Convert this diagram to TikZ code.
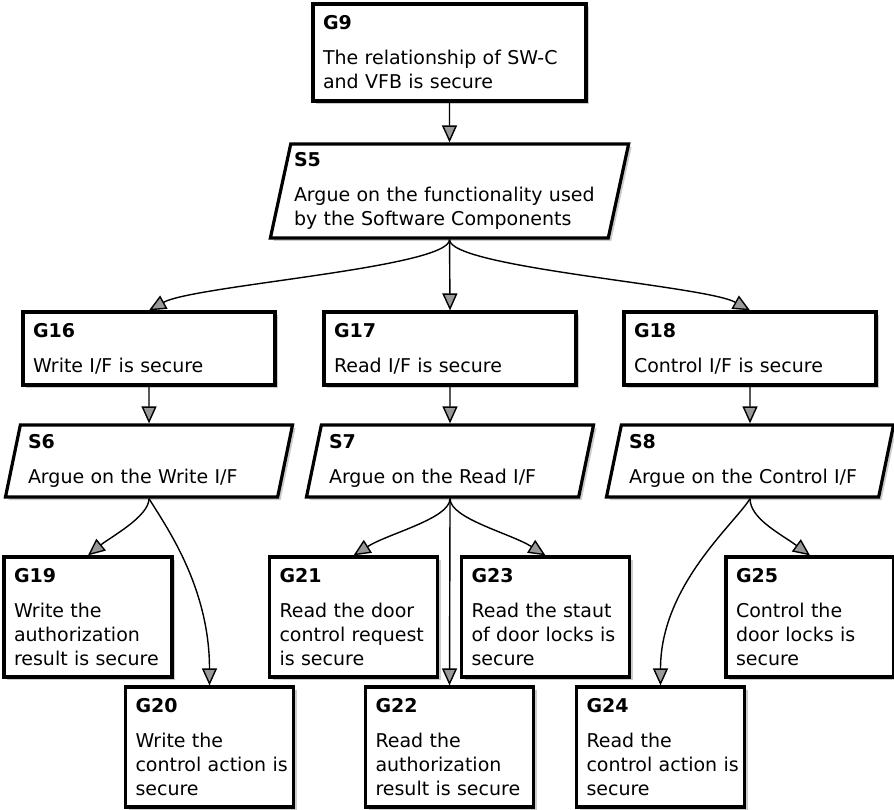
\documentclass[tikz,border=0pt]{standalone}
\usepackage{fontspec}
\setmainfont{DejaVu Sans}
\usetikzlibrary{arrows.meta,shapes.geometric,shadows}

\begin{document}
\begin{tikzpicture}[
  x=1pt, y=-1pt,
  >={Triangle[length=17pt,width=15pt,fill=gray!80]},
  font=\fontsize{19}{24}\selectfont,
  shade/.style={drop shadow={shadow xshift=3pt,shadow yshift=-3pt,fill=black!20,opacity=1}},
  goal/.style={draw, line width=3.2pt, fill=white, align=left,
               inner xsep=10pt, inner ysep=3pt, shade},
  goalwide/.style={goal, minimum width=273pt, minimum height=97pt, text width=253pt},
  goalmid/.style={goal, minimum width=252pt, minimum height=73pt, text width=232pt},
  goalsmall/.style={goal, minimum width=168pt, minimum height=120pt, text width=148pt},
  strat/.style={draw, line width=3.2pt, fill=white, align=left, inner sep=2pt,
                trapezium, trapezium left angle=76, trapezium right angle=104,
                trapezium stretches=true, minimum width=288pt, minimum height=72pt,
                text width=242pt, shade},
  stratwide/.style={strat, minimum width=359pt, minimum height=94pt, text width=311pt},
  link/.style={->, line width=1.4pt}
]
  \useasboundingbox (0,0) rectangle (894,810);

  % top goal and strategy
  \node[goalwide] (G9) at (449.5,52.5) {\textbf{G9}\\[11pt]The relationship of SW-C\\and VFB is secure};
  \node[stratwide] (S5) at (449.5,191) {\textbf{S5}\\[11pt]Argue on the functionality used\\by the Software Components};

  % interface goals
  \node[goalmid] (G16) at (149,348.5) {\textbf{G16}\\[11pt]Write I/F is secure};
  \node[goalmid] (G17) at (450,348.5) {\textbf{G17}\\[11pt]Read I/F is secure};
  \node[goalmid] (G18) at (750,348.5) {\textbf{G18}\\[11pt]Control I/F is secure};

  % interface strategies
  \node[strat] (S6) at (149,461) {\textbf{S6}\\[11pt]Argue on the Write I/F};
  \node[strat] (S7) at (450,461) {\textbf{S7}\\[11pt]Argue on the Read I/F};
  \node[strat] (S8) at (750,461) {\textbf{S8}\\[11pt]Argue on the Control I/F};

  % leaf goals
  \node[goalsmall] (G19) at (88,617) {\textbf{G19}\\[11pt]Write the\\authorization\\result is secure};
  \node[goalsmall] (G20) at (209.5,747) {\textbf{G20}\\[11pt]Write the\\\mbox{control action is}\\secure};
  \node[goalsmall] (G21) at (353.5,617) {\textbf{G21}\\[11pt]Read the door\\control request\\is secure};
  \node[goalsmall] (G22) at (449.5,747) {\textbf{G22}\\[11pt]Read the\\authorization\\result is secure};
  \node[goalsmall] (G23) at (545.5,617) {\textbf{G23}\\[11pt]Read the staut\\of door locks is\\secure};
  \node[goalsmall] (G24) at (660.5,747) {\textbf{G24}\\[11pt]Read the\\\mbox{control action is}\\secure};
  \node[goalsmall] (G25) at (810,617) {\textbf{G25}\\[11pt]Control the\\door locks is\\secure};

  \draw[link] (G9.south) -- (S5.north);
  \draw[link] (S5.south) .. controls +(0,28) and +(45,-25) .. (G16.north);
  \draw[link] (S5.south) -- (G17.north);
  \draw[link] (S5.south) .. controls +(0,28) and +(-45,-25) .. (G18.north);
  \draw[link] (G16.south) -- (S6.north);
  \draw[link] (G17.south) -- (S7.north);
  \draw[link] (G18.south) -- (S8.north);
  \draw[link] (S6.south) .. controls +(0,18) and +(22,-18) .. (G19.north);
  \draw[link] (S6.south) .. controls +(15,25) and +(0,-100) .. (G20.north);
  \draw[link] (S7.south) .. controls +(0,20) and +(35,-22) .. (G21.north);
  \draw[link] (S7.south) -- (G22.north);
  \draw[link] (S7.south) .. controls +(0,20) and +(-35,-22) .. (G23.north);
  \draw[link] (S8.south) .. controls +(-15,25) and +(0,-100) .. (G24.north);
  \draw[link] (S8.south) .. controls +(0,20) and +(-30,-22) .. (G25.north);
\end{tikzpicture}
\end{document}
